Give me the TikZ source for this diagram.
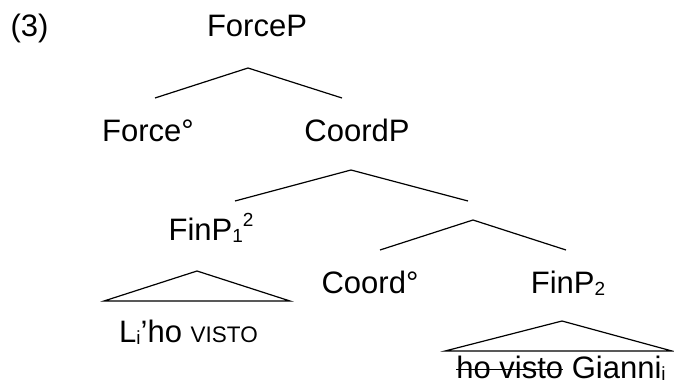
\documentclass[tikz,border=0pt]{standalone}
\usepackage{fontspec}
\setmainfont{Liberation Sans}
% lowered and raised indices in the text font
\newcommand{\lidx}[1]{\raisebox{-0.09em}{\fontsize{19}{20}\selectfont #1}}
\newcommand{\hidx}[1]{\raisebox{0.42em}{\fontsize{19}{20}\selectfont #1}}
\newcommand{\smcap}[1]{{\fontsize{22.5}{24}\selectfont #1}}
% struck-through words
\newsavebox{\strikebox}
\newcommand{\strike}[1]{\sbox{\strikebox}{#1}\rlap{\usebox{\strikebox}}\raisebox{0.25em}{\rule{\wd\strikebox}{1.2pt}}}
\begin{document}
\begin{tikzpicture}[x=1pt,y=-1pt,
  lbl/.style={anchor=base,inner sep=0pt,font=\fontsize{31}{36}\selectfont},
  branch/.style={line width=1.2pt,line join=miter},
]
\useasboundingbox (0,0) rectangle (674,385);
% labels
\node[lbl] (ex) at (29.5,37) {(3)};
\node[lbl] (force) at (257,37) {ForceP};
\node[lbl] (forcehead) at (148,142) {Force°};
\node[lbl] (coordp) at (357,142) {CoordP};
\node[lbl] (fin1) at (211,240) {FinP\lidx{1}\hidx{2}};
\node[lbl] (coordhead) at (370,293) {Coord°};
\node[lbl] (fin2) at (568,293) {FinP\lidx{2}};
\node[lbl] (yield1) at (188.5,342) {L\lidx{i}’ho \smcap{VISTO}};
\node[lbl] (yield2) at (561,378) {\strike{ho visto} Gianni\lidx{i}};
% branch points
\coordinate (forceTop) at (248,68);
\coordinate (forceL) at (155,98);
\coordinate (forceR) at (342,98);
\coordinate (coordTop) at (351,170);
\coordinate (coordL) at (235,201);
\coordinate (coordR) at (468,201);
\coordinate (barTop) at (473,220);
\coordinate (barL) at (380,250);
\coordinate (barR) at (566,250);
\coordinate (tri1Top) at (197,271);
\coordinate (tri1L) at (104,301);
\coordinate (tri1R) at (290,301);
\coordinate (tri2Top) at (562,321);
\coordinate (tri2L) at (445,351);
\coordinate (tri2R) at (672,351);
% branches
\draw[branch] (forceL) -- (forceTop) -- (forceR);
\draw[branch] (coordL) -- (coordTop) -- (coordR);
\draw[branch] (barL) -- (barTop) -- (barR);
\draw[branch] (tri1L) -- (tri1Top) -- (tri1R) -- cycle;
\draw[branch] (tri2L) -- (tri2Top) -- (tri2R) -- cycle;
\end{tikzpicture}
\end{document}
